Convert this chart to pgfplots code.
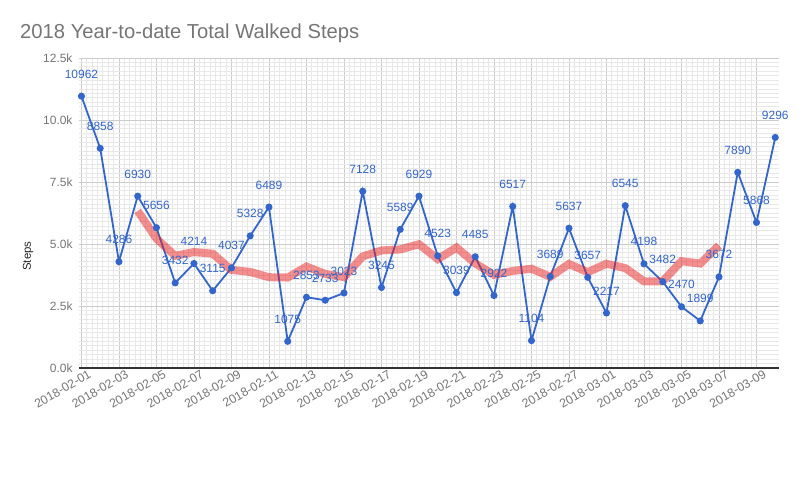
\documentclass[border=0pt]{standalone}
\usepackage{pgfplots}
\pgfplotsset{compat=1.18}
\usepackage{pgfplotstable}
\usepackage{fontspec}
\setmainfont{Liberation Sans}
\definecolor{gblue}{HTML}{3366CC}
\definecolor{tickgray}{HTML}{757575}
\definecolor{mared}{HTML}{E82020}

\pgfplotstableread{
x y lab
0 10962 10962
1 8858 8858
2 4286 4286
3 6930 6930
4 5656 5656
5 3432 3432
6 4214 4214
7 3115 3115
8 4037 4037
9 5328 5328
10 6489 6489
11 1075 1075
12 2853 2853
13 2733 2733
14 3023 3023
15 7128 7128
16 3245 3245
17 5589 5589
18 6929 6929
19 4523 4523
20 3039 3039
21 4485 4485
22 2922 2922
23 6517 6517
24 1104 1104
25 3689 3689
26 5637 5637
27 3657 3657
28 2217 2217
29 6545 6545
30 4198 4198
31 3482 3482
32 2470 2470
33 1899 1899
34 3672 3672
35 7890 7890
36 5868 5868
37 9296 9296
}\steps

\pgfplotstableread{
x y
3 6334
4 5213
5 4524
6 4673
7 4610
8 3956
9 3873
10 3661
11 3648
12 4090
13 3792
14 3664
15 4500
16 4739
17 4782
18 4991
19 4390
20 4858
21 4217
22 3754
23 3913
24 4002
25 3678
26 4195
27 3864
28 4204
29 4029
30 3495
31 3498
32 4308
33 4211
34 4940
}\movavg

\begin{document}
\begin{tikzpicture}
\path[use as bounding box] (0,0) rectangle (812bp,481bp);
\node[anchor=base west, text=tickgray, font=\fontsize{20.3}{24}\selectfont, inner sep=0pt] at (20bp,442bp) {2018 Year-to-date Total Walked Steps};
\node[rotate=90, text=black!85, font=\fontsize{11.5}{13}\selectfont, inner sep=0pt] at (28bp,225bp) {Steps};
\begin{axis}[
  at={(79bp,113bp)}, anchor=south west,
  scale only axis, width=700bp, height=310bp,
  xmin=-0.13, xmax=37.2, ymin=0, ymax=12500,
  scaled y ticks=false,
  xtick={0,2,...,36},
  xticklabels={2018-02-01,2018-02-03,2018-02-05,2018-02-07,2018-02-09,2018-02-11,2018-02-13,2018-02-15,2018-02-17,2018-02-19,2018-02-21,2018-02-23,2018-02-25,2018-02-27,2018-03-01,2018-03-03,2018-03-05,2018-03-07,2018-03-09},
  ytick={0,2500,5000,7500,10000,12500},
  yticklabels={0.0k,2.5k,5.0k,7.5k,10.0k,12.5k},
  minor x tick num=6, minor y tick num=13,
  grid=both,
  major grid style={color=black!20, line width=0.8bp},
  minor grid style={color=black!9, line width=0.8bp},
  axis line style={draw=none},
  major tick length=0pt, minor tick length=0pt,
  tick style={draw=none},
  yticklabel style={font=\fontsize{12}{14}\selectfont, text=tickgray, xshift=-3bp},
  xticklabel style={font=\fontsize{12.3}{14}\selectfont, text=tickgray, rotate=30, anchor=north east, xshift=8bp, yshift=-1bp},
  extra y ticks={0}, extra y tick labels={},
  extra y tick style={grid=major, major grid style={color=black!80, line width=1.3bp}},
  clip=false,
]
\addplot[color=gblue, line width=1.8bp, mark=*, mark size=2.6bp, mark options={fill=gblue, draw=gblue},
  point meta=explicit symbolic,
  nodes near coords,
  every node near coord/.style={font=\fontsize{12}{14}\selectfont, text=gblue, inner sep=0pt, anchor=south, yshift=17bp}]
  table[x=x, y=y, meta=lab] {\steps};
\addplot[color=mared, opacity=0.5, line width=8bp, no marks] table[x=x, y=y] {\movavg};
\end{axis}
\end{tikzpicture}
\end{document}
